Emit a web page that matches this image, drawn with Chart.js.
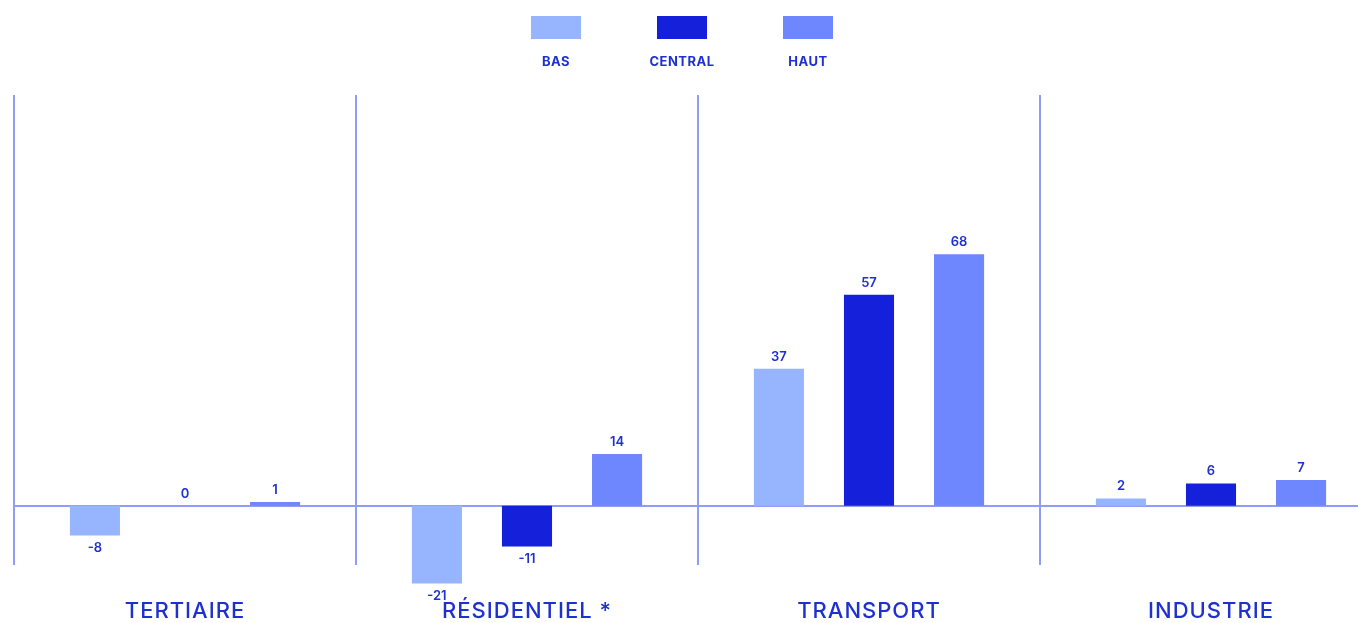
<!DOCTYPE html>
<html lang="fr">
<head>
  <meta charset="UTF-8">
  <title>Secteurs</title>
  <script src="https://cdn.jsdelivr.net/npm/chart.js"></script>
  <style>
    html, body { margin: 0; padding: 0; background: #fff; overflow: hidden; }
    #wrap { width: 1382px; height: 623px; position: relative; }
  </style>
</head>
<body>
  <div id="wrap"><canvas id="chart"></canvas></div>

  <script>
    const categories = ['TERTIAIRE', 'RÉSIDENTIEL *', 'TRANSPORT', 'INDUSTRIE'];
    const seriesNames = ['BAS', 'CENTRAL', 'HAUT'];
    const basValues = [-8, -21, 37, 2];
    const centralValues = [0, -11, 57, 6];
    const hautValues = [1, 14, 68, 7];
    const colors = ['#97b5ff', '#1520db', '#6e87ff'];

    const textColor = '#1f30d0';
    const lineColor = '#939cf3';
    const fontFamily = 'Inter, "Open Sans", sans-serif';

    // separators, zero line, value labels, category names and the stacked legend
    const decor = {
      id: 'decor',
      beforeDatasetsDraw(chart) {
        const { ctx, chartArea } = chart;
        const x = chart.scales.x;
        const y = chart.scales.y;
        const step = x.width / categories.length;
        ctx.save();
        ctx.strokeStyle = lineColor;
        ctx.lineWidth = 2;
        for (let i = 0; i < categories.length; i++) {
          const px = Math.round(x.getPixelForValue(i) - step / 2);
          ctx.beginPath();
          ctx.moveTo(px, chartArea.top);
          ctx.lineTo(px, chartArea.bottom);
          ctx.stroke();
        }
        const y0 = Math.round(y.getPixelForValue(0));
        ctx.beginPath();
        ctx.moveTo(chartArea.left, y0);
        ctx.lineTo(chartArea.right, y0);
        ctx.stroke();
        ctx.restore();
      },
      afterDatasetsDraw(chart) {
        const { ctx, chartArea } = chart;
        ctx.save();
        ctx.fillStyle = textColor;
        ctx.font = '600 13px ' + fontFamily;
        ctx.textAlign = 'center';
        ctx.textBaseline = 'middle';
        chart.data.datasets.forEach((ds, di) => {
          chart.getDatasetMeta(di).data.forEach((bar, i) => {
            const v = ds.data[i];
            const ty = v >= 0 ? bar.y - 12 : bar.y + 13;
            ctx.fillText(String(v), bar.x, ty);
          });
        });

        // category names under the panels
        const x = chart.scales.x;
        ctx.font = '500 22px ' + fontFamily;
        if ('letterSpacing' in ctx) ctx.letterSpacing = '1px';
        categories.forEach((c, i) => {
          ctx.fillText(c, x.getPixelForValue(i), chartArea.bottom + 46);
        });
        ctx.restore();
      },
      afterDraw(chart) {
        const { ctx } = chart;
        const cx = 682;
        ctx.save();
        ctx.font = '700 13px ' + fontFamily;
        ctx.textAlign = 'center';
        ctx.textBaseline = 'middle';
        if ('letterSpacing' in ctx) ctx.letterSpacing = '0.5px';
        chart.data.datasets.forEach((ds, i) => {
          const mx = cx + (i - 1) * 126;
          ctx.fillStyle = ds.backgroundColor;
          ctx.fillRect(mx - 25, 16, 50, 23);
          ctx.fillStyle = textColor;
          ctx.fillText(ds.label, mx, 62);
        });
        ctx.restore();
      }
    };

    new Chart(document.getElementById('chart'), {
      type: 'bar',
      data: {
        labels: categories,
        datasets: [
          { label: seriesNames[0], data: basValues, backgroundColor: colors[0] },
          { label: seriesNames[1], data: centralValues, backgroundColor: colors[1] },
          { label: seriesNames[2], data: hautValues, backgroundColor: colors[2] }
        ].map(d => Object.assign(d, { clip: false, categoryPercentage: 0.79, barPercentage: 0.556 }))
      },
      options: {
        responsive: true,
        maintainAspectRatio: false,
        animation: false,
        layout: { padding: { top: 95, left: 14, right: 0, bottom: 58 } },
        plugins: {
          legend: { display: false },
          tooltip: { enabled: false }
        },
        scales: {
          x: {
            display: false,
            grid: { display: false }
          },
          y: {
            display: false,
            min: -16,
            max: 111
          }
        }
      },
      plugins: [decor]
    });
  </script>
</body>
</html>
